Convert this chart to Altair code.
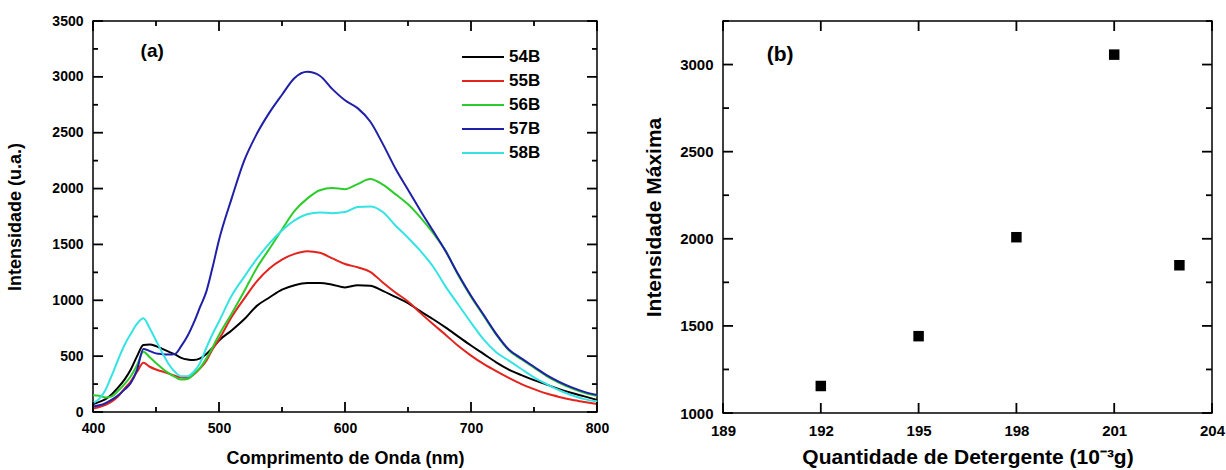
import altair as alt
import pandas as pd

# ---------------- data ----------------
wavelength = [400, 405, 410, 415, 420, 425, 430, 435, 440, 445, 450, 455, 460, 465, 470,
              475, 480, 485, 490, 495, 500,
              510, 520, 530, 540, 550, 560, 570, 580, 590, 600, 610, 620, 630, 640, 650,
              660, 670, 680, 690, 700, 710, 720, 730, 740, 750, 760, 770, 780, 790, 800]

s54B = [70, 90, 115, 160, 220, 290, 380, 500, 600, 605, 590, 565, 540, 515, 485,
        470, 465, 480, 520, 575, 640,
        730, 830, 950, 1025, 1095, 1135, 1155, 1155, 1140, 1115, 1135, 1130, 1085, 1030, 975,
        900, 830, 755, 675, 595, 520, 445, 380, 330, 285, 245, 205, 170, 140, 108]

s55B = [30, 45, 65, 95, 140, 210, 275, 360, 440, 405, 380, 362, 345, 325, 308,
        305, 335, 390, 460, 565, 650,
        850, 1015, 1170, 1285, 1365, 1415, 1440, 1425, 1375, 1325, 1295, 1255, 1160, 1070, 990,
        885, 785, 690, 590, 505, 430, 365, 305, 250, 205, 165, 135, 110, 90, 72]

s56B = [150, 145, 130, 140, 190, 250, 320, 420, 540, 490, 438, 390, 348, 315, 290,
        295, 340, 395, 480, 580, 690,
        880, 1080, 1290, 1460, 1634, 1800, 1910, 1985, 2005, 1995, 2040, 2085, 2035, 1950, 1860,
        1740, 1600, 1440, 1222, 1032, 862, 692, 552, 472, 397, 322, 262, 212, 172, 145]

s57B = [48, 60, 80, 110, 150, 200, 260, 380, 565, 545, 525, 518, 515, 520, 590,
        680, 800, 940, 1080, 1300, 1540,
        1910, 2250, 2490, 2680, 2840, 2990, 3045, 3010, 2890, 2790, 2720, 2600, 2400, 2180, 1990,
        1800, 1620, 1436, 1230, 1040, 870, 700, 560, 480, 405, 330, 270, 220, 180, 152]

s58B = [80, 120, 200, 330, 470, 600, 700, 790, 840, 750, 640, 530, 430, 360, 320,
        320, 360, 440, 575, 700, 810,
        1040, 1210, 1370, 1510, 1625, 1715, 1770, 1785, 1780, 1790, 1835, 1840, 1790, 1670, 1560,
        1440, 1300, 1120, 960, 800, 650, 535, 460, 385, 310, 250, 195, 150, 115, 93]

series_names = ["54B", "55B", "56B", "57B", "58B"]
series_colors = ["#000000", "#e3231c", "#2ccc2c", "#1f1fa8", "#35e3e3"]

detergent = [192, 195, 198, 201, 203]
max_intensity = [1155, 1441, 2009, 3057, 1848]

# tick positions
left_x_major = [400, 500, 600, 700, 800]
left_x_minor = [450, 550, 650, 750]
left_y_major = [0, 500, 1000, 1500, 2000, 2500, 3000, 3500]
left_y_minor = [250, 750, 1250, 1750, 2250, 2750, 3250]
right_x_major = [189, 192, 195, 198, 201, 204]
right_y_major = [1000, 1500, 2000, 2500, 3000]
right_y_minor = [1250, 1750, 2250, 2750, 3250]

FONT = "Liberation Sans"

rows = []
for name, vals in zip(series_names, [s54B, s55B, s56B, s57B, s58B]):
    for w, v in zip(wavelength, vals):
        rows.append({"wl": w, "val": v, "amostra": name})
spectra = pd.DataFrame(rows)

points = pd.DataFrame({"q": detergent, "imax": max_intensity})


# ---------------- helpers (inward ticks drawn through the scales) ----------------
def x_ticks(field, vals, length, H, X):
    df = pd.DataFrame({field: vals})
    base = alt.Chart(df).mark_rule(strokeWidth=1.8, color="black", opacity=1)
    return [base.encode(x=X, y=alt.value(H), y2=alt.value(H - length)),
            base.encode(x=X, y=alt.value(0), y2=alt.value(length))]


def y_ticks(field, vals, length, W, Y):
    df = pd.DataFrame({field: vals})
    base = alt.Chart(df).mark_rule(strokeWidth=1.8, color="black", opacity=1)
    return [base.encode(y=Y, x=alt.value(0), x2=alt.value(length)),
            base.encode(y=Y, x=alt.value(W), x2=alt.value(W - length))]


# ---------------- left panel ----------------
LW, LH = 504, 391
X_DOM, Y_DOM = [400, 800], [0, 3500]
XL = alt.X("wl:Q",
           scale=alt.Scale(domain=X_DOM, nice=False, zero=False, padding=0),
           axis=alt.Axis(values=left_x_major, format="d", title="Comprimento de Onda (nm)",
                         labelFlush=False,
                         labelFontSize=14, titleFontSize=18, labelPadding=9, titlePadding=14))
YL = alt.Y("val:Q",
           scale=alt.Scale(domain=Y_DOM, nice=False, padding=0),
           axis=alt.Axis(values=left_y_major, format="d", title="Intensidade (u.a.)",
                         labelFlush=False,
                         labelFontSize=14, titleFontSize=18, labelPadding=10, titlePadding=27))
COLOR = alt.Color("amostra:N", scale=alt.Scale(domain=series_names, range=series_colors),
                  legend=None)

lines = alt.Chart(spectra).mark_line(strokeWidth=2, interpolate="monotone").encode(
    x=XL, y=YL, color=COLOR)


# legend (placed inside the plot, converted from pixel layout to data units)
def px_to_x(px):
    return X_DOM[0] + px / LW * (X_DOM[1] - X_DOM[0])


def px_to_y(py):
    return Y_DOM[1] - py / LH * (Y_DOM[1] - Y_DOM[0])


legend_rows = [px_to_y(36 + 24 * i) for i in range(5)]
legend_line_df = pd.DataFrame({
    "amostra": series_names,
    "wl": [px_to_x(369)] * 5,
    "wl2": [px_to_x(411)] * 5,
    "val": legend_rows,
})
legend_text_df = pd.DataFrame({
    "amostra": series_names,
    "wl": [px_to_x(416)] * 5,
    "val": legend_rows,
})
legend_lines = alt.Chart(legend_line_df).mark_rule(strokeWidth=2).encode(
    x=XL, x2="wl2:Q", y=YL, color=COLOR)
legend_text = alt.Chart(legend_text_df).mark_text(
    font=FONT, fontWeight="bold", fontSize=17, color="black", align="left", baseline="middle"
).encode(x=XL, y=YL, text="amostra:N")

label_a = alt.Chart(pd.DataFrame({"wl": [447], "val": [3232], "t": ["(a)"]})).mark_text(
    font=FONT, fontWeight="bold", fontSize=19, color="black"
).encode(x=XL, y=YL, text="t:N")

left_layers = [lines, legend_lines, legend_text, label_a]
left_layers += x_ticks("wl", left_x_major, 10, LH, XL)
left_layers += x_ticks("wl", left_x_minor, 5, LH, XL)
left_layers += y_ticks("val", left_y_major, 10, LW, YL)
left_layers += y_ticks("val", left_y_minor, 5, LW, YL)

left = alt.layer(*left_layers).properties(width=LW, height=LH)

# ---------------- right panel ----------------
RW, RH = 489, 392
XR = alt.X("q:Q",
           scale=alt.Scale(domain=[189, 204], nice=False, zero=False, padding=0),
           axis=alt.Axis(values=right_x_major, format="d",
                         title="Quantidade de Detergente (10⁻³g)", labelFlush=False,
                         labelFontSize=15, titleFontSize=21, labelPadding=10, titlePadding=8))
YR = alt.Y("imax:Q",
           scale=alt.Scale(domain=[1000, 3250], nice=False, zero=False, padding=0),
           axis=alt.Axis(values=right_y_major, format="d", title="Intensidade Máxima",
                         labelFlush=False,
                         labelFontSize=15, titleFontSize=21, labelPadding=10, titlePadding=15))

pts = alt.Chart(points).mark_square(size=110, color="black", opacity=1).encode(x=XR, y=YR)

label_b = alt.Chart(pd.DataFrame({"q": [190.75], "imax": [3052], "t": ["(b)"]})).mark_text(
    font=FONT, fontWeight="bold", fontSize=21, color="black"
).encode(x=XR, y=YR, text="t:N")

right_layers = [pts, label_b]
right_layers += x_ticks("q", right_x_major, 10, RH, XR)
right_layers += y_ticks("imax", right_y_major, 10, RW, YR)
right_layers += y_ticks("imax", right_y_minor, 6, RW, YR)

right = alt.layer(*right_layers).properties(width=RW, height=RH)

chart = alt.hconcat(left, right, spacing=126, bounds="flush").properties(
    padding={"left": 6, "top": 13, "right": 0, "bottom": 0},
    background="white",
).configure_view(
    stroke="black", strokeWidth=1.5
).configure_axis(
    labelFont=FONT, titleFont=FONT, labelFontWeight="bold", titleFontWeight="bold",
    labelColor="black", titleColor="black", ticks=False, domain=False, grid=False,
)

chart.save("out.html", embed_options={"renderer": "svg", "actions": False})
